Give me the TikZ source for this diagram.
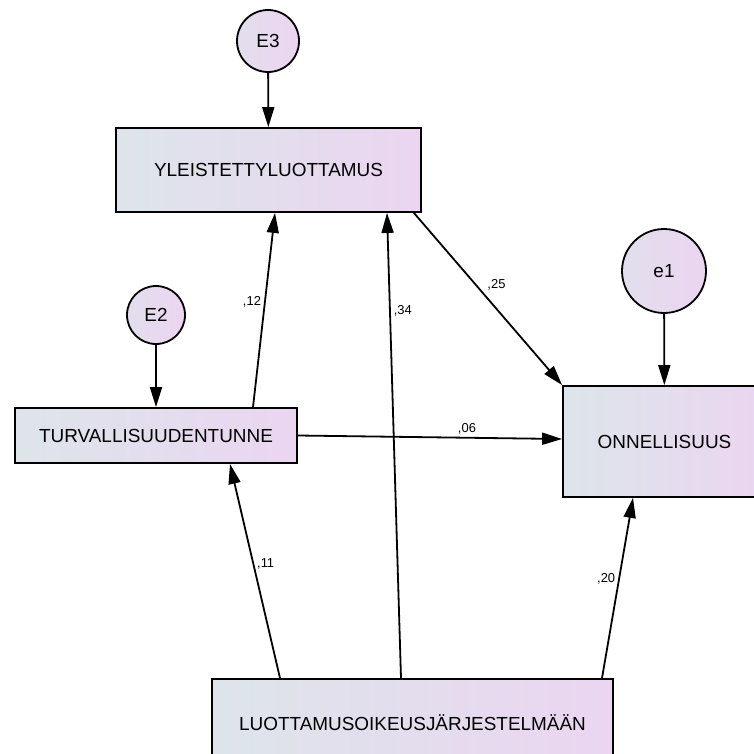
\documentclass[tikz,border=0pt]{standalone}
\usepackage{fontspec}
\setmainfont{Liberation Sans}
\usetikzlibrary{arrows.meta}
\definecolor{boxleft}{HTML}{DDE5EA}
\definecolor{boxright}{HTML}{EBD5F1}
\tikzstyle{observed}=[draw, line width=1.8bp, left color=boxleft, right color=boxright, inner sep=0, font=\fontsize{19}{22}\selectfont]
\tikzstyle{residual}=[draw, circle, line width=1.8bp, left color=boxleft!60!boxright, right color=boxright, inner sep=0, font=\fontsize{19}{22}\selectfont]
\tikzstyle{effect}=[line width=1.8bp, -{Triangle[length=20bp,width=12bp]}]
\tikzstyle{weight}=[font=\fontsize{13}{15}\selectfont, inner sep=3bp]

\begin{document}
\begin{tikzpicture}[x=1bp, y=-1bp]
      \useasboundingbox (0, 0) rectangle (754, 754);
      \clip (0, 0) rectangle (754, 754);

      \node[residual, minimum size=62bp] (E3) at (268, 41) {E3};
      \node[observed, minimum width=305bp, minimum height=84bp] (yleis) at (268.5, 170) {YLEISTETTYLUOTTAMUS};

      \node[residual, minimum size=58bp] (E2) at (156, 315) {E2};
      \node[observed, minimum width=282bp, minimum height=55bp] (turva) at (156, 435.5) {TURVALLISUUDENTUNNE};

      \node[residual, minimum size=84bp] (e1) at (664, 271) {e1};
      \node[observed, minimum width=203bp, minimum height=111bp] (onnel) at (664.5, 441.5) {ONNELLISUUS};

      \node[observed, minimum width=401bp, minimum height=88bp] (luott) at (412.5, 723) {LUOTTAMUSOIKEUSJÄRJESTELMÄÄN};

      \draw[effect] (E3) to (yleis);
      \draw[effect] (E2) to (turva);
      \draw[effect] (e1) to (onnel);

      \draw[effect] ([xshift=97bp]turva.north) to node[weight, pos=0.54, left] {,12} ([xshift=6.5bp]yleis.south);
      \draw[effect] ([xshift=-11.5bp]luott.north) to node[weight, pos=0.79, right] {,34} ([xshift=118.5bp]yleis.south);
      \draw[effect] ([xshift=-8bp]yleis.south east) to node[weight, pos=0.47, above right] {,25} (onnel.north west);
      \draw[effect] (turva.east) to node[weight, pos=0.64, above] {,06} ([yshift=2.5bp]onnel.west);
      \draw[effect] ([xshift=-132.5bp]luott.north) to node[weight, pos=0.535, right] {,11} ([xshift=74bp]turva.south);
      \draw[effect] ([xshift=189.5bp]luott.north) to node[weight, pos=0.55, left] {,20} ([xshift=-31.5bp]onnel.south);
    \end{tikzpicture}
\end{document}
